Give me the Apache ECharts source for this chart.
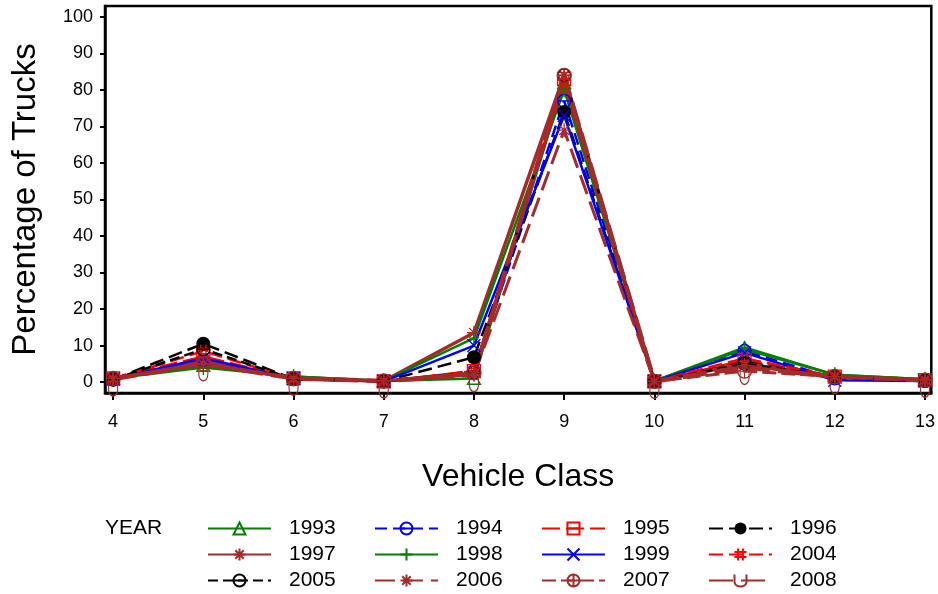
<!DOCTYPE html>
<html>
<head>
<meta charset="utf-8">
<script src="https://cdn.jsdelivr.net/npm/echarts@6/dist/echarts.min.js"></script>
<style>html,body{margin:0;padding:0;background:#fff}#c{width:938px;height:594px}</style>
</head>
<body>
<div id="c"></div>
<script>
var classes = [4, 5, 6, 7, 8, 9, 10, 11, 12, 13];
var xTicks = [4, 5, 6, 7, 8, 9, 10, 11, 12, 13];
var yTicks = [0, 10, 20, 30, 40, 50, 60, 70, 80, 90, 100];
var years = ['1993','1994','1995','1996','1997','1998','1999','2004','2005','2006','2007','2008'];

var y1993 = [1.0, 4.5, 1.5, 0.3, 1.0, 82, 0.3, 9.5, 2.0, 0.8];
var y1994 = [0.8, 6.0, 1.0, 0.2, 3.0, 77, 0.2, 8.5, 1.0, 0.4];
var y1995 = [1.0, 7.0, 1.0, 0.2, 3.0, 83, 0.2, 6.0, 1.5, 0.5];
var y1996 = [0.7, 10.5, 0.8, 0.2, 6.8, 74, 0.2, 5.5, 1.5, 0.3];
var y1997 = [1.0, 6.0, 1.0, 0.3, 13.5, 84, 0.2, 5.0, 1.5, 0.5];
var y1998 = [1.0, 4.0, 1.5, 0.3, 12.0, 80, 0.3, 9.0, 2.0, 0.8];
var y1999 = [0.8, 6.5, 1.0, 0.2, 10.0, 73, 0.2, 8.0, 0.5, 0.3];
var y2004 = [0.8, 8.5, 0.8, 0.2, 3.0, 82, 0.2, 6.5, 1.5, 0.4];
var y2005 = [0.7, 9.0, 0.8, 0.2, 2.5, 84, 0.2, 5.0, 1.5, 0.4];
var y2006 = [1.0, 5.0, 1.0, 0.3, 2.0, 69, 0.2, 4.5, 1.5, 0.5];
var y2007 = [1.0, 5.0, 1.0, 0.3, 2.5, 84, 0.2, 3.0, 1.5, 0.5];
var y2008 = [0.8, 5.0, 1.0, 0.3, 2.0, 84, 0.2, 4.0, 1.5, 0.5];
var values = [y1993,y1994,y1995,y1996,y1997,y1998,y1999,y2004,y2005,y2006,y2007,y2008];

var GREEN='#008000', BLUE='#0000ff', RED='#ff0000', BLACK='#000000', BROWN='#a52a2a';
var SYM = {
  tri: 'path://M0,-10L10,8L-10,8Z',
  circMinus: 'path://M-10,0A10,10,0,1,1,10,0A10,10,0,1,1,-10,0ZM-10,0L10,0',
  sqMinus: 'path://M-10,-10L10,-10L10,10L-10,10ZM-10,0L10,0',
  star: 'path://M-10,0L10,0M0,-10L0,10M-7,-7L7,7M-7,7L7,-7',
  plus: 'path://M-6,0L6,0M0,-10L0,10',
  cross: 'path://M-10,-10L10,10M-10,10L10,-10',
  hash: 'path://M-4,-10L-4,10M4,-10L4,10M-10,-4L10,-4M-10,4L10,4',
  circPlus: 'path://M-10,0A10,10,0,1,1,10,0A10,10,0,1,1,-10,0ZM-10,0L10,0M0,-10L0,10',
  cup: 'path://M-6,0L-6,10A6,6,0,0,0,6,10L6,0'
};
var styles = [
  {c:GREEN, s:SYM.tri, size:13, w:2.5, t:'solid'},
  {c:BLUE, s:SYM.circMinus, size:13, w:2.5, t:[12,6]},
  {c:RED, s:SYM.sqMinus, size:13, w:2.5, t:[18,6]},
  {c:BLACK, s:'circle', size:14, w:2.5, t:[14,6], fill:true},
  {c:BROWN, s:SYM.star, size:14, w:3.5, t:'solid'},
  {c:GREEN, s:SYM.plus, size:15, w:2.5, t:'solid'},
  {c:BLUE, s:SYM.cross, size:13, w:2.5, t:'solid'},
  {c:RED, s:SYM.hash, size:13, w:2.5, t:[14,6]},
  {c:BLACK, s:SYM.circMinus, size:13, w:2.5, t:[10,5]},
  {c:BROWN, s:SYM.star, size:14, w:3, t:[20,8]},
  {c:BROWN, s:SYM.circPlus, size:14, w:3, t:[14,5]},
  {c:BROWN, s:SYM.cup, size:[12,17], w:4.5, t:[24,8], offset:[0,'50%']}
];

var FONT = '"Liberation Sans", Arial, sans-serif';
var series = years.map(function (yr, i) {
  var st = styles[i];
  return {
    name: yr,
    type: 'line',
    data: classes.map(function (c, k) { return [c, values[i][k]]; }),
    symbol: st.s,
    symbolSize: st.size,
    symbolKeepAspect: true,
    symbolOffset: st.offset || [0, 0],
    showAllSymbol: true,
    animation: false,
    itemStyle: st.fill ? {color: st.c} : {color: 'rgba(0,0,0,0)', borderColor: st.c, borderWidth: 1.3},
    lineStyle: {color: st.c, width: st.w, type: st.t},
    emphasis: {disabled: true}
  };
});

var chart = echarts.init(document.getElementById('c'), null, {renderer: 'canvas'});
chart.setOption({
  backgroundColor: '#ffffff',
  animation: false,
  textStyle: {fontFamily: FONT},
  grid: {left: 105, top: 6, right: 6, bottom: 201, show: true, borderColor: '#000', borderWidth: 2.5, backgroundColor: 'transparent'},
  xAxis: {
    type: 'value', min: 3.91, max: 13.07,
    name: 'Vehicle Class', nameLocation: 'middle', nameGap: 68,
    nameTextStyle: {fontSize: 32, color: '#000', fontFamily: FONT},
    axisLine: {show: true, onZero: false, lineStyle: {color: '#000', width: 2.5}},
    axisTick: {show: true, length: 7, lineStyle: {color: '#000', width: 2}, customValues: xTicks},
    axisLabel: {show: true, margin: 20, fontSize: 18, color: '#000', fontFamily: FONT, customValues: xTicks},
    splitLine: {show: false}
  },
  yAxis: {
    type: 'value', min: -3, max: 103,
    name: 'Percentage of Trucks', nameLocation: 'middle', nameGap: 63,
    nameTextStyle: {fontSize: 33, color: '#000', fontFamily: FONT},
    axisLine: {show: true, onZero: false, lineStyle: {color: '#000', width: 2.5}},
    axisTick: {show: true, length: 5, lineStyle: {color: '#000', width: 2}, customValues: yTicks},
    axisLabel: {show: true, margin: 12, fontSize: 18, color: '#000', fontFamily: FONT, customValues: yTicks},
    splitLine: {show: false}
  },
  legend: {
    left: 207, top: 518, width: 680, padding: 0,
    itemWidth: 63, itemHeight: 15, itemGap: 5,
    orient: 'horizontal',
    data: years,
    textStyle: {fontSize: 21, color: '#000', fontFamily: FONT, width: 80, lineHeight: 20, padding: [0, 0, 0, 13]},
    selectedMode: false
  },
  graphic: [{
    type: 'text', left: 105, top: 518,
    style: {text: 'YEAR', fontSize: 21, fill: '#000', fontFamily: FONT}
  }],
  series: series
});
</script>
</body>
</html>
